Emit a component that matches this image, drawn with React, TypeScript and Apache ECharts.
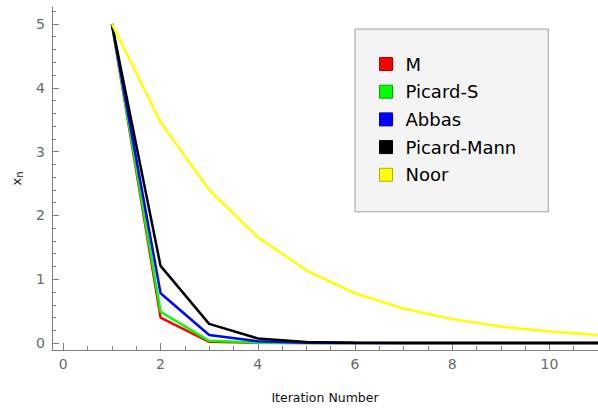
import React, { useEffect, useRef } from "react";
import * as echarts from "echarts";

const iterations = [1, 2, 3, 4, 5, 6, 7, 8, 9, 10, 11];
const mValues = [5, 0.4, 0.02, 0.004, 0.001, 0, 0, 0, 0, 0, 0];
const picardSValues = [5, 0.49, 0.035, 0.006, 0.001, 0, 0, 0, 0, 0, 0];
const abbasValues = [5, 0.78, 0.125, 0.027, 0.005, 0.001, 0, 0, 0, 0, 0];
const picardMannValues = [5, 1.21, 0.3, 0.073, 0.016, 0.003, 0.001, 0, 0, 0, 0];
const noorValues = [5, 3.46, 2.4, 1.66, 1.14, 0.78, 0.54, 0.375, 0.26, 0.18, 0.125];

const seriesNames = ["M", "Picard-S", "Abbas", "Picard-Mann", "Noor"];
const seriesColors = ["#ff0000", "#00ff00", "#0000ff", "#000000", "#ffff00"];
const legendBorders = ["#b00000", "#00a800", "#0000a8", "#000000", "#b0b000"];

const xMajorTicks = [0, 2, 4, 6, 8, 10];
const xMinorTicks = [0.5, 1, 1.5, 2.5, 3, 3.5, 4.5, 5, 5.5, 6.5, 7, 7.5, 8.5, 9, 9.5, 10.5];
const yMajorTicks = [0, 1, 2, 3, 4, 5];
const yMinorTicks = [
  0.2, 0.4, 0.6, 0.8, 1.2, 1.4, 1.6, 1.8, 2.2, 2.4, 2.6, 2.8, 3.2, 3.4, 3.6, 3.8,
  4.2, 4.4, 4.6, 4.8, 5.2,
];

const X_MIN = -0.233;
const X_MAX = 11;
const Y_MIN = -0.109;
const Y_MAX = 5.266;

const FONT = "DejaVu Sans";
const AXIS_GRAY = "#808080";
const LABEL_GRAY = "#6a6a6a";

export default function App() {
  const ref = useRef<HTMLDivElement>(null);

  useEffect(() => {
    if (!ref.current) return;
    const chart = echarts.init(ref.current, undefined, { renderer: "svg" });
    const allValues = [mValues, picardSValues, abbasValues, picardMannValues, noorValues];

    const baseAxis = {
      type: "value",
      splitLine: { show: false },
      axisLine: { show: true, onZero: false, lineStyle: { color: AXIS_GRAY, width: 1 } },
    };

    chart.setOption({
      animation: false,
      backgroundColor: "#ffffff",
      grid: { left: 52, right: 0, top: 7, bottom: 58, containLabel: false },
      xAxis: [
        {
          ...baseAxis,
          min: X_MIN,
          max: X_MAX,
          position: "bottom",
          axisTick: {
            show: true,
            inside: true,
            length: 7,
            customValues: xMajorTicks,
            lineStyle: { color: AXIS_GRAY },
          },
          axisLabel: {
            show: true,
            customValues: xMajorTicks,
            color: LABEL_GRAY,
            fontFamily: FONT,
            fontSize: 14,
            margin: 7,
          },
          name: "Iteration Number",
          nameLocation: "middle",
          nameGap: 41,
          nameTextStyle: { fontFamily: FONT, fontSize: 12.5, color: "#111" },
        },
        {
          ...baseAxis,
          min: X_MIN,
          max: X_MAX,
          position: "bottom",
          axisLine: { show: false, onZero: false },
          axisTick: {
            show: true,
            inside: true,
            length: 4,
            customValues: xMinorTicks,
            lineStyle: { color: AXIS_GRAY },
          },
          axisLabel: { show: false },
        },
      ],
      yAxis: [
        {
          ...baseAxis,
          min: Y_MIN,
          max: Y_MAX,
          position: "left",
          axisTick: {
            show: true,
            inside: true,
            length: 7,
            customValues: yMajorTicks,
            lineStyle: { color: AXIS_GRAY },
          },
          axisLabel: {
            show: true,
            customValues: yMajorTicks,
            color: LABEL_GRAY,
            fontFamily: FONT,
            fontSize: 14,
            margin: 7,
          },
          name: "x{sub|n}",
          nameLocation: "middle",
          nameGap: 28,
          nameRotate: 90,
          nameTextStyle: {
            fontFamily: FONT,
            fontSize: 13,
            color: "#111",
            rich: {
              sub: { fontFamily: FONT, fontSize: 10, color: "#111", verticalAlign: "bottom", padding: [5, 0, 0, 0] },
            },
          },
        },
        {
          ...baseAxis,
          min: Y_MIN,
          max: Y_MAX,
          position: "left",
          axisLine: { show: false, onZero: false },
          axisTick: {
            show: true,
            inside: true,
            length: 4,
            customValues: yMinorTicks,
            lineStyle: { color: AXIS_GRAY },
          },
          axisLabel: { show: false },
        },
      ],
      legend: {
        orient: "vertical",
        left: 355,
        top: 29,
        padding: [26, 32, 28, 24],
        itemWidth: 13,
        itemHeight: 13,
        itemGap: 9.7,
        icon: "rect",
        backgroundColor: "#f4f4f4",
        borderColor: "#a0a0a0",
        borderWidth: 1,
        borderRadius: 0,
        textStyle: {
          fontFamily: FONT,
          fontSize: 18,
          color: "#000",
          lineHeight: 13,
          padding: [0, 0, 0, 8],
        },
        data: seriesNames.map((name, i) => ({
          name,
          itemStyle: { color: seriesColors[i], borderColor: legendBorders[i], borderWidth: 1 },
        })),
      },
      series: seriesNames.map((name, i) => ({
        name,
        type: "line",
        xAxisIndex: 0,
        yAxisIndex: 0,
        symbol: "none",
        showSymbol: false,
        color: seriesColors[i],
        lineStyle: { width: 2.5, color: seriesColors[i] },
        itemStyle: { color: seriesColors[i] },
        data: iterations.map((x, k) => [x, allValues[i][k]]),
        z: 2 + i,
      })),
    });

    return () => chart.dispose();
  }, []);

  return (
    <div
      ref={ref}
      style={{ position: "absolute", left: 0, top: 0, width: 598, height: 409 }}
    />
  );
}
